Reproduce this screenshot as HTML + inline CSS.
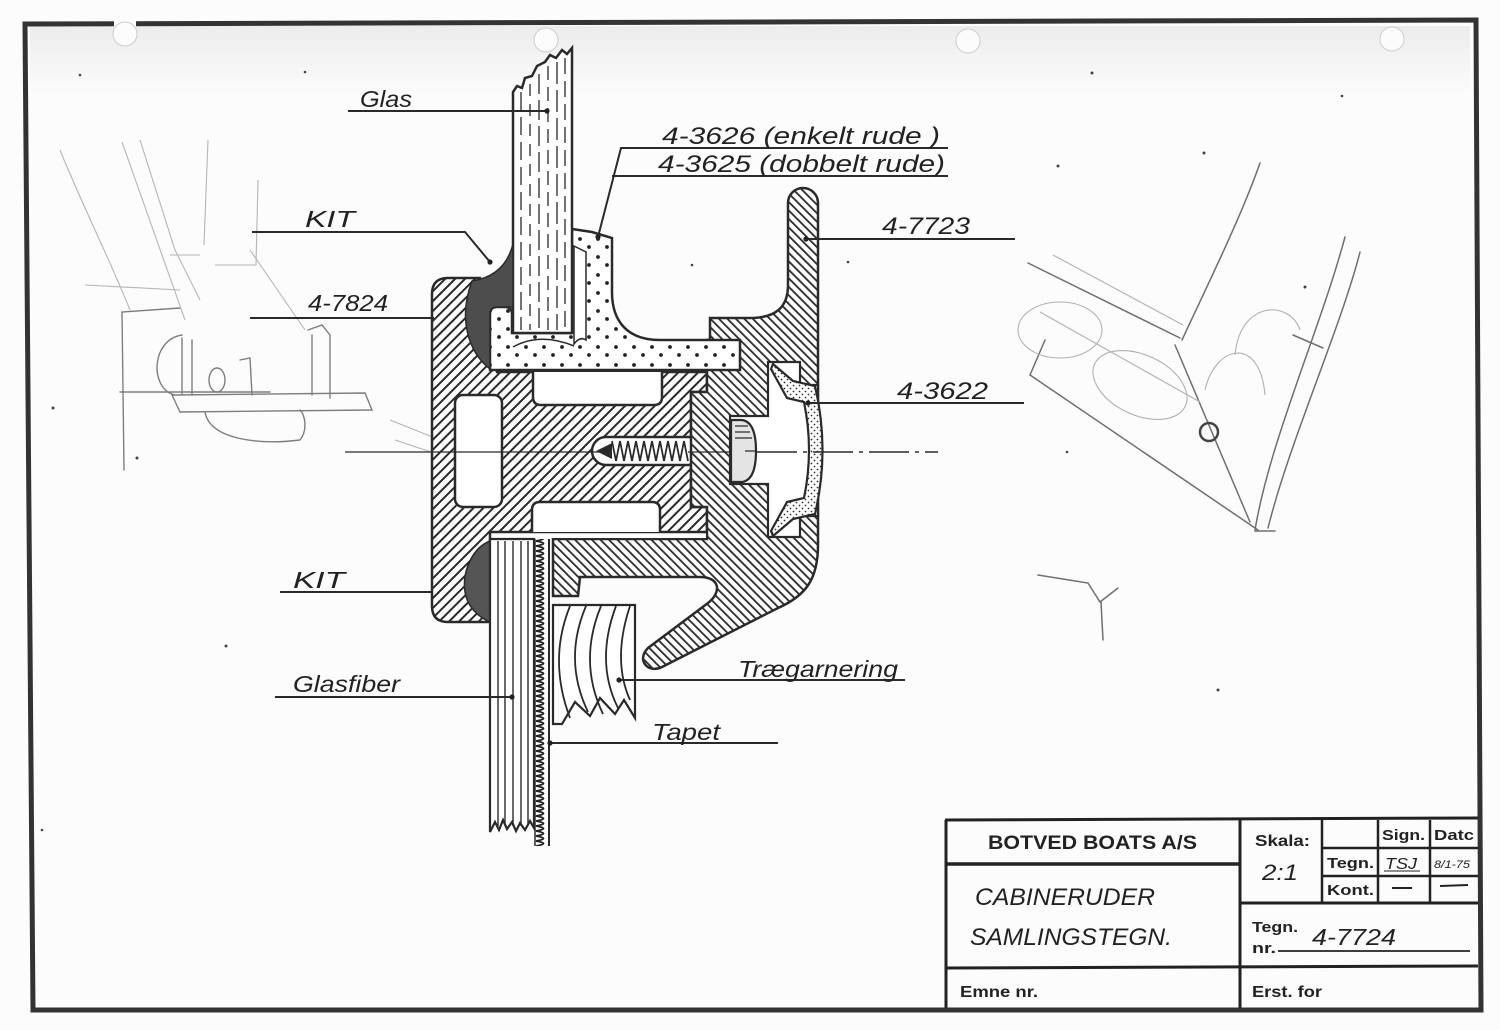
<!DOCTYPE html>
<html><head><meta charset="utf-8"><style>
html,body{margin:0;padding:0;background:#fcfcfc;}
svg{display:block;}
text{font-family:"Liberation Sans",sans-serif;fill:#222;}
.it{font-style:italic;}
.b{font-weight:bold;}
</style></head><body>
<svg width="1500" height="1030" viewBox="0 0 1500 1030" xmlns="http://www.w3.org/2000/svg">
<defs>
<pattern id="hA" patternUnits="userSpaceOnUse" width="7" height="7" patternTransform="rotate(45)">
<rect width="7" height="7" fill="#fff"/><rect x="0" y="0" width="2" height="7" fill="#2a2a2a"/></pattern>
<pattern id="hB" patternUnits="userSpaceOnUse" width="6" height="6" patternTransform="rotate(-45)">
<rect width="6" height="6" fill="#fff"/><rect x="0" y="0" width="1.8" height="6" fill="#2a2a2a"/></pattern>
<pattern id="dG" patternUnits="userSpaceOnUse" width="18" height="18">
<rect width="18" height="18" fill="#fff"/><circle cx="4" cy="5" r="1.9" fill="#222"/><circle cx="13" cy="13" r="1.9" fill="#222"/></pattern>
<pattern id="dF" patternUnits="userSpaceOnUse" width="6" height="6">
<rect width="6" height="6" fill="#fff"/><circle cx="1.5" cy="1.5" r="0.9" fill="#333"/><circle cx="4.5" cy="4.5" r="0.9" fill="#333"/></pattern>
<pattern id="wave" patternUnits="userSpaceOnUse" x="535" y="541" width="15" height="10">
<rect width="15" height="10" fill="#fff"/><path d="M1,0 Q16,2.5 1,5 Q16,7.5 1,10" fill="none" stroke="#222" stroke-width="1.8"/></pattern>
<linearGradient id="smudge" x1="0" y1="0" x2="0" y2="1">
<stop offset="0" stop-color="#e8e8e8"/><stop offset="1" stop-color="#e8e8e8" stop-opacity="0"/></linearGradient>
</defs>

<rect width="1500" height="1030" fill="#fcfcfc"/>
<rect x="30" y="26" width="1440" height="70" fill="url(#smudge)" opacity="0.8"/>

<!-- border -->
<path d="M25,24 L1476,20 L1481,1010 L33,1010 Z" fill="none" stroke="#333" stroke-width="5"/>
<!-- binder holes -->
<rect x="114" y="0" width="22" height="30" fill="#fcfcfc"/>
<circle cx="125" cy="34" r="12" fill="#fcfcfc" stroke="#ccc" stroke-width="1"/>
<circle cx="546" cy="40" r="12" fill="#fcfcfc" stroke="#ccc" stroke-width="1"/>
<circle cx="968" cy="41" r="12" fill="#fcfcfc" stroke="#ccc" stroke-width="1"/>
<circle cx="1392" cy="39" r="12" fill="#fcfcfc" stroke="#ccc" stroke-width="1"/>

<!-- left pencil sketch -->
<g fill="none" stroke="#7e7e7e" stroke-width="1.4" stroke-linecap="round">
<path d="M124,470 L122,312 L180,308"/>
<path d="M120,392 L270,392"/>
<path d="M172,395 L365,393 L372,410 L180,412 Z"/>
<path d="M182,338 L182,395 M192,340 L192,395"/>
<path d="M308,330 L322,325 L330,335 L330,398 M312,335 L312,395"/>
<path d="M240,360 L250,358 L252,395"/>
<ellipse cx="217" cy="380" rx="8" ry="12"/>
<path d="M205,412 C210,440 260,445 300,440 C308,430 305,415 300,410"/>
<path d="M182,335 C150,340 150,390 175,395"/>
</g>
<g fill="none" stroke="#b5b5b5" stroke-width="1.1">
<path d="M60,150 C80,200 110,260 130,310"/>
<path d="M122,142 L185,320"/>
<path d="M208,140 L204,245"/>
<path d="M258,180 L256,265 L215,265"/>
<path d="M250,250 L305,330"/>
<path d="M85,285 L180,290"/>
<path d="M140,140 L175,250 L200,300"/>
<path d="M170,255 L200,255"/>
<path d="M390,420 L440,440 M395,440 L440,455"/>
</g>

<!-- right pencil sketch -->
<g fill="none" stroke="#6f6f6f" stroke-width="1.5" stroke-linecap="round">
<path d="M1260,163 C1240,220 1205,290 1182,340"/>
<path d="M1028,263 L1180,338"/>
<path d="M1030,375 L1258,530"/>
<path d="M1175,345 L1250,522"/>
<path d="M1345,237 C1320,330 1270,440 1255,530"/>
<path d="M1360,252 C1340,330 1290,440 1268,528"/>
<path d="M1030,375 L1045,340"/>
<path d="M1293,335 L1323,348"/>
<path d="M1255,531 L1275,531"/>
<path d="M1038,575 L1088,583 L1100,602 L1118,588"/>
<path d="M1101,602 L1103,640"/>
</g>
<g fill="none" stroke="#b0b0b0" stroke-width="1.1">
<path d="M1053,255 L1183,325"/>
<path d="M1040,312 L1200,402"/>
<path d="M1205,390 C1215,345 1260,335 1265,395"/>
<ellipse cx="1140" cy="385" rx="50" ry="30" transform="rotate(25 1140 385)"/>
<ellipse cx="1060" cy="330" rx="42" ry="28"/>
<path d="M1235,355 C1240,300 1290,300 1300,330"/>
</g>
<circle cx="1209" cy="432" r="9" fill="none" stroke="#444" stroke-width="2.5"/>

<!-- 4-7824 frame -->
<path d="M448,278 L480,278 L497,372 L707,372 L707,392 L691,392 L691,507 L707,507 L707,532 L490,532 L490,622 L448,622 Q432,622 432,606 L432,294 Q432,278 448,278 Z" fill="url(#hA)" stroke="#2a2a2a" stroke-width="2.5"/>
<rect x="455" y="395" width="47" height="112" rx="8" fill="#fff" stroke="#2a2a2a" stroke-width="2.5"/>
<path d="M533,372 L533,397 Q533,405 541,405 L654,405 Q662,405 662,397 L662,372" fill="#fff" stroke="#2a2a2a" stroke-width="2.5"/>
<path d="M532,532 L532,510 Q532,502 540,502 L652,502 Q660,502 660,510 L660,532" fill="#fff" stroke="#2a2a2a" stroke-width="2.5"/>
<rect x="592" y="437" width="110" height="28" rx="14" fill="#fff" stroke="#2a2a2a" stroke-width="2.5"/>

<!-- 4-7723 -->
<path d="M710,318 L750,318 C775,318 788,308 788,285 L788,203 A15,15 0 0 1 818,203 L818,545 C818,580 805,596 778,608 L662,667 C648,674 636,660 648,648 L708,603 C722,592 720,577 700,577 L580,577 L578,596 L553,596 L553,539 L707,539 L707,507 L691,507 L691,392 L707,392 L707,340 L710,340 Z" fill="url(#hB)" stroke="#2a2a2a" stroke-width="2.5"/>
<!-- cavity -->
<path d="M768,362 L800,362 L800,385 L818,385 L818,516 L800,516 L800,537 L768,537 L768,484 L730,484 L730,416 L768,416 Z" fill="#fff" stroke="#2a2a2a" stroke-width="2.2"/>
<!-- 4-3622 cover -->
<path d="M773,364 L793,381 L815,386 Q830,450 815,514 L793,519 L773,536 L771,531 L787,502 L804,498 Q814,450 804,402 L787,398 L771,369 Z" fill="url(#dF)" stroke="#2a2a2a" stroke-width="2.2"/>

<!-- gap strip -->
<rect x="493" y="534" width="213" height="4" fill="#fff"/>

<!-- gasket 4-3626 -->
<path d="M490,370 L490,314 Q490,307 497,307 L505,307 Q512,307 512,314 L512,333 L572,333 L572,229 L592,232 L612,238 L612,292 C612,322 628,340 660,340 L740,340 L740,370 Z" fill="url(#dG)" stroke="#2a2a2a" stroke-width="2.5"/>
<path d="M574,246 L586,252 L586,340 Q580,336 574,344 Z" fill="#fff" stroke="#2a2a2a" stroke-width="1.5"/>
<path d="M513,347 Q540,332 574,346" fill="none" stroke="#2a2a2a" stroke-width="1.5"/>

<!-- glass -->
<path d="M513,333 L513,92 L517,86 L522,88 L525,78 L532,76 L537,66 L545,62 L550,55 L556,58 L562,50 L567,54 L572,48 L572,333 Z" fill="#fff" stroke="#2a2a2a" stroke-width="2.5"/>
<g stroke="#2a2a2a" stroke-width="1.3">
<line x1="521" y1="92" x2="521" y2="330" stroke-dasharray="18,7"/>
<line x1="530" y1="84" x2="530" y2="330" stroke-dasharray="12,8"/>
<line x1="539" y1="74" x2="539" y2="330" stroke-dasharray="20,6"/>
<line x1="548" y1="66" x2="548" y2="330" stroke-dasharray="14,7"/>
<line x1="557" y1="62" x2="557" y2="330" stroke-dasharray="22,6"/>
<line x1="565" y1="58" x2="565" y2="330" stroke-dasharray="16,7"/>
</g>

<!-- kit -->
<path d="M472,281 Q505,276 513,244 L513,307 L497,307 Q490,307 490,314 L490,369 C468,352 458,318 472,281 Z" fill="#4d4d4d" stroke="#2a2a2a" stroke-width="1.5"/>
<path d="M490,541 C472,548 462,572 465,592 C467,606 478,617 490,622 Z" fill="#555" stroke="#2a2a2a" stroke-width="1.5"/>

<!-- glasfiber -->
<path d="M490,539 L490,832 L495,822 L499,830 L503,820 L507,829 L512,822 L516,831 L520,823 L525,830 L530,821 L534,828 L534,539 Z" fill="#fff" stroke="#2a2a2a" stroke-width="2.2"/>
<g stroke="#2a2a2a" stroke-width="1.4">
<line x1="498" y1="541" x2="498" y2="826"/><line x1="505" y1="541" x2="505" y2="824"/>
<line x1="513" y1="541" x2="513" y2="826"/><line x1="521" y1="541" x2="521" y2="826"/>
<line x1="528" y1="541" x2="528" y2="824"/>
</g>
<!-- tapet -->
<rect x="535" y="539" width="14" height="307" fill="url(#wave)"/>
<line x1="549" y1="539" x2="549" y2="846" stroke="#2a2a2a" stroke-width="2"/>
<line x1="535" y1="539" x2="535" y2="846" stroke="#2a2a2a" stroke-width="1.5"/>

<!-- wood -->
<path d="M553,605 L635,605 L635,718 L624,700 L615,714 L600,698 L590,716 L575,702 L562,724 L553,724 Z" fill="#fff" stroke="#2a2a2a" stroke-width="2.2"/>
<path d="M570,606 Q548,660 570,718 M586,606 Q563,660 588,712 M601,606 Q578,662 603,714 M616,606 Q595,662 618,708 M630,606 Q612,660 630,700" fill="none" stroke="#2a2a2a" stroke-width="1.8"/>

<!-- screw -->
<path d="M596,451 L612,443 L612,459 Z" fill="#2a2a2a"/>
<polyline points="612,441 616,461 620,441 624,461 628,441 632,461 636,441 640,461 644,441 648,461 652,441 656,461 660,441 664,461 668,441 672,461 676,441 680,461 684,441 688,461" fill="none" stroke="#2a2a2a" stroke-width="1.8"/>
<path d="M731,420 L742,420 Q756,422 756,451 Q756,480 742,482 L731,482 Z" fill="#e4e4e4" stroke="#2a2a2a" stroke-width="2.2"/>
<path d="M735,426 L748,426 M735,432 L750,432 M735,438 L752,438 M745,451 L757,451" stroke="#2a2a2a" stroke-width="1.3"/>

<!-- center lines -->
<line x1="345" y1="452" x2="600" y2="452" stroke="#2a2a2a" stroke-width="1.3"/>
<line x1="688" y1="452" x2="731" y2="452" stroke="#2a2a2a" stroke-width="1.3"/>
<line x1="757" y1="452" x2="938" y2="452" stroke="#2a2a2a" stroke-width="1.5" stroke-dasharray="40,6,4,6"/>

<!-- leaders -->
<g stroke="#2a2a2a" stroke-width="2" fill="none">
<path d="M348,111 L548,111"/>
<path d="M620,148 L948,148"/>
<path d="M612,176 L948,176"/>
<path d="M621,148 L598,237"/>
<path d="M252,232 L465,232 L490,262"/>
<path d="M250,318 L434,318"/>
<path d="M805,239 L1015,239"/>
<path d="M808,403 L1024,403"/>
<path d="M280,592 L432,592"/>
<path d="M275,697 L512,697"/>
<path d="M618,680 L905,680"/>
<path d="M549,743 L778,743"/>
</g>
<g fill="#222">
<circle cx="547" cy="111" r="2.6"/><circle cx="598" cy="237" r="2.6"/><circle cx="490" cy="262" r="2.6"/>
<circle cx="806" cy="239" r="2.6"/><circle cx="808" cy="403" r="2.6"/><circle cx="512" cy="697" r="2.6"/>
<circle cx="619" cy="680" r="2.6"/><circle cx="550" cy="743" r="2.6"/>
</g>

<!-- labels -->
<text class="it" x="360" y="107" font-size="23" textLength="52" lengthAdjust="spacingAndGlyphs">Glas</text>
<text class="it" x="662" y="144" font-size="24" textLength="278" lengthAdjust="spacingAndGlyphs">4-3626 (enkelt rude )</text>
<text class="it" x="658" y="172" font-size="24" textLength="287" lengthAdjust="spacingAndGlyphs">4-3625 (dobbelt rude)</text>
<text class="it" x="305" y="227" font-size="23" textLength="50" lengthAdjust="spacingAndGlyphs">KIT</text>
<text class="it" x="308" y="311" font-size="23" textLength="80" lengthAdjust="spacingAndGlyphs">4-7824</text>
<text class="it" x="882" y="234" font-size="24" textLength="88" lengthAdjust="spacingAndGlyphs">4-7723</text>
<text class="it" x="897" y="399" font-size="24" textLength="91" lengthAdjust="spacingAndGlyphs">4-3622</text>
<text class="it" x="293" y="588" font-size="23" textLength="52" lengthAdjust="spacingAndGlyphs">KIT</text>
<text class="it" x="293" y="692" font-size="23" textLength="107" lengthAdjust="spacingAndGlyphs">Glasfiber</text>
<text class="it" x="738" y="677" font-size="23" textLength="160" lengthAdjust="spacingAndGlyphs">Trægarnering</text>
<text class="it" x="652" y="740" font-size="23" textLength="68" lengthAdjust="spacingAndGlyphs">Tapet</text>

<!-- title block -->
<g stroke="#222" fill="none">
<path d="M945,820 L1478,818" stroke-width="3"/>
<path d="M946,820 L946,1008" stroke-width="3"/>
<path d="M946,864 L1240,864" stroke-width="3.5"/>
<path d="M946,968 L1478,966" stroke-width="3"/>
<path d="M1240,820 L1240,1008" stroke-width="3"/>
<path d="M1322,820 L1322,903" stroke-width="2.5"/>
<path d="M1378,820 L1378,903" stroke-width="2.5"/>
<path d="M1430,820 L1430,903" stroke-width="2.5"/>
<path d="M1322,848 L1478,848" stroke-width="2.5"/>
<path d="M1322,876 L1478,876" stroke-width="2.5"/>
<path d="M1240,903 L1478,903" stroke-width="3"/>
<path d="M1278,951 L1470,951" stroke-width="1.8"/>
<path d="M1392,888 L1412,888" stroke-width="2"/>
<path d="M1440,886 L1468,885" stroke-width="2"/>
<path d="M1384,871 L1420,871" stroke-width="1"/>
</g>
<text class="b" x="988" y="849" font-size="19" textLength="209" lengthAdjust="spacingAndGlyphs">BOTVED BOATS A/S</text>
<text class="it" x="975" y="905" font-size="24" textLength="180" lengthAdjust="spacingAndGlyphs">CABINERUDER</text>
<text class="it" x="970" y="945" font-size="24" textLength="202" lengthAdjust="spacingAndGlyphs">SAMLINGSTEGN.</text>
<text class="b" x="960" y="997" font-size="16" textLength="78" lengthAdjust="spacingAndGlyphs">Emne nr.</text>
<text class="b" x="1255" y="846" font-size="16" textLength="55" lengthAdjust="spacingAndGlyphs">Skala:</text>
<text class="it" x="1262" y="880" font-size="22" textLength="36" lengthAdjust="spacingAndGlyphs">2:1</text>
<text class="b" x="1382" y="840" font-size="15" textLength="43" lengthAdjust="spacingAndGlyphs">Sign.</text>
<text class="b" x="1434" y="840" font-size="15" textLength="40" lengthAdjust="spacingAndGlyphs">Datc</text>
<text class="b" x="1327" y="868" font-size="15" textLength="47" lengthAdjust="spacingAndGlyphs">Tegn.</text>
<text class="b" x="1327" y="895" font-size="15" textLength="47" lengthAdjust="spacingAndGlyphs">Kont.</text>
<text class="it" x="1385" y="869" font-size="16" textLength="32" lengthAdjust="spacingAndGlyphs">TSJ</text>
<text class="it" x="1434" y="868" font-size="11" textLength="36" lengthAdjust="spacingAndGlyphs">8/1-75</text>
<text class="b" x="1252" y="932" font-size="15" textLength="46" lengthAdjust="spacingAndGlyphs">Tegn.</text>
<text class="b" x="1252" y="953" font-size="15" textLength="24" lengthAdjust="spacingAndGlyphs">nr.</text>
<text class="it" x="1312" y="945" font-size="23" textLength="84" lengthAdjust="spacingAndGlyphs">4-7724</text>
<text class="b" x="1252" y="997" font-size="16" textLength="70" lengthAdjust="spacingAndGlyphs">Erst. for</text>

<!-- specks -->
<g fill="#444">
<circle cx="80" cy="75" r="1.3"/><circle cx="305" cy="72" r="1.3"/><circle cx="53" cy="408" r="1.5"/>
<circle cx="137" cy="458" r="1.5"/><circle cx="226" cy="646" r="1.5"/><circle cx="42" cy="830" r="1.3"/>
<circle cx="1092" cy="73" r="1.5"/><circle cx="1204" cy="153" r="1.5"/><circle cx="1058" cy="166" r="1.5"/>
<circle cx="1305" cy="287" r="1.5"/><circle cx="1218" cy="690" r="1.5"/><circle cx="692" cy="265" r="1.3"/>
<circle cx="848" cy="262" r="1.3"/><circle cx="1067" cy="452" r="1.3"/><circle cx="1342" cy="96" r="1.3"/>
</g>
</svg>
</body></html>
